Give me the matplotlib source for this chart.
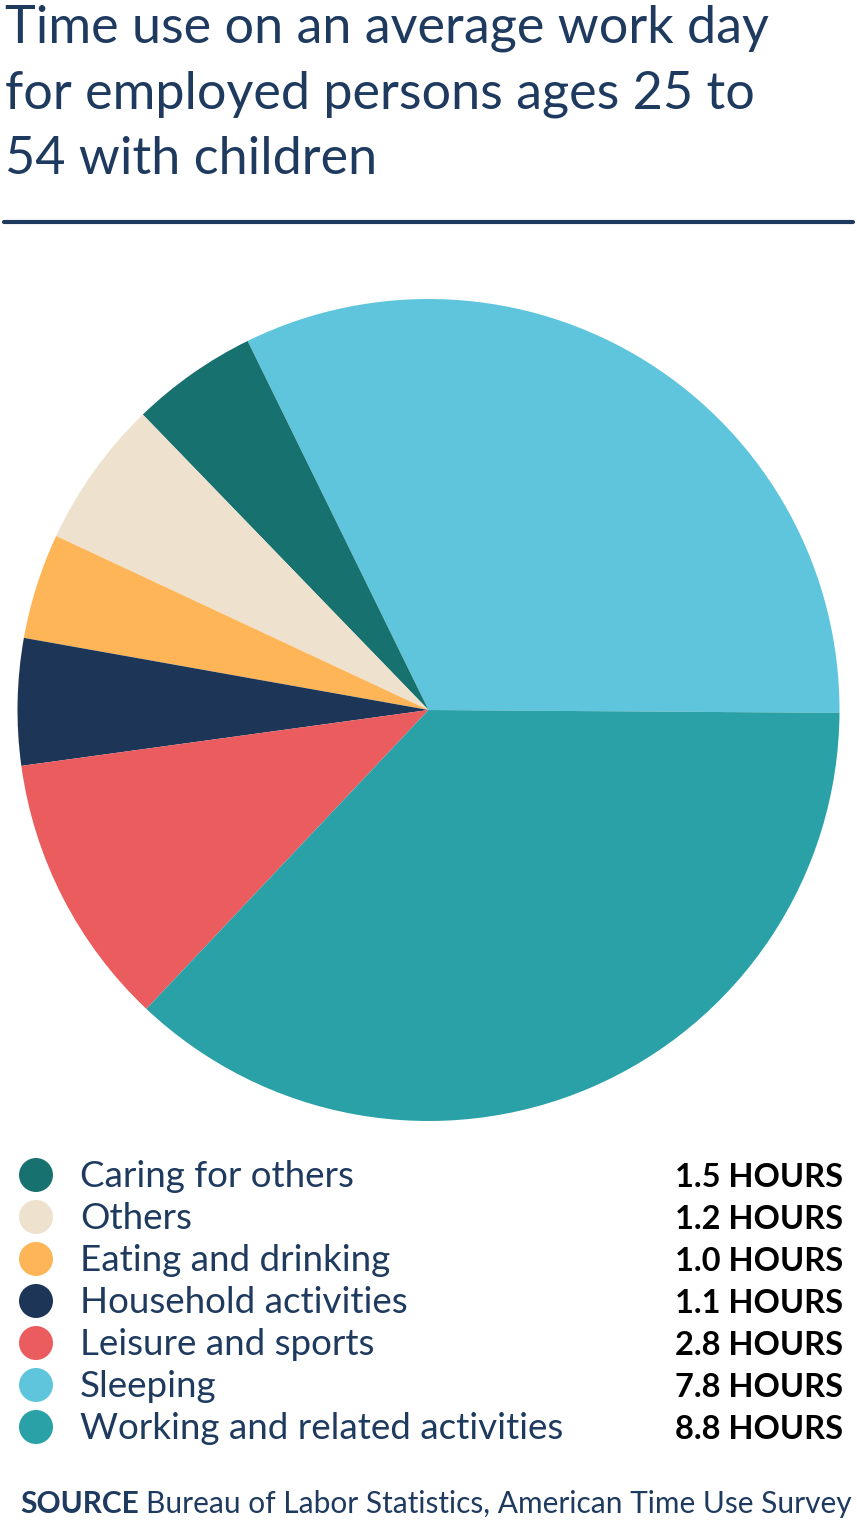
import matplotlib
matplotlib.use("Agg")
import matplotlib.pyplot as plt
from matplotlib.patches import Circle

# ---- data ----
categories = ["Caring for others", "Others", "Eating and drinking",
              "Household activities", "Leisure and sports", "Sleeping",
              "Working and related activities"]
# values printed in the legend
hours = [1.5, 1.2, 1.0, 1.1, 2.8, 7.8, 8.8]
hour_labels = ["1.5 HOURS", "1.2 HOURS", "1.0 HOURS", "1.1 HOURS",
               "2.8 HOURS", "7.8 HOURS", "8.8 HOURS"]
pie_hours = [1.2, 1.4, 1.0, 1.2, 2.6, 7.8, 8.9]
colors = ["#17716F", "#EEE1CD", "#FDB557", "#1D3557", "#EA5C5D",
          "#5EC5DC", "#2AA0A7"]
pie_order = [5, 0, 1, 2, 3, 4, 6]  # drawing order around the pie

title_lines = ["Time use on an average work day",
               "for employed persons ages 25 to",
               "54 with children"]
source_bold = "SOURCE"
source_text = "Bureau of Labor Statistics, American Time Use Survey"

NAVY = "#1F3A5F"
FONT = ["Lato", "DejaVu Sans"]

W, H = 857, 1520
fig = plt.figure(figsize=(W / 100, H / 100), dpi=100)
fig.patch.set_facecolor("white")
ax = fig.add_axes([0, 0, 1, 1])

def Y(py):
    return H - py

ax.pie([pie_hours[i] for i in pie_order], colors=[colors[i] for i in pie_order],
       startangle=-0.4, counterclock=True, center=(428.5, Y(710)), radius=411,
       wedgeprops=dict(linewidth=0))

ax.set_xlim(0, W)
ax.set_ylim(0, H)
ax.set_aspect("auto")
ax.axis("off")

# title
for i, line in enumerate(title_lines):
    ax.text(5, Y(42 + 66 * i), line, fontsize=37.5, color=NAVY, family=FONT,
            ha="left", va="baseline")

# rule
ax.plot([4, 853], [Y(222), Y(222)], color=NAVY, lw=3, solid_capstyle="round")

# legend
for i, (cat, lab, col) in enumerate(zip(categories, hour_labels, colors)):
    yc = 1175 + 42 * i
    ax.add_patch(Circle((36, Y(yc)), 17, color=col, lw=0))
    ax.text(80, Y(yc + 12), cat, fontsize=26.5, color=NAVY, family=FONT,
            ha="left", va="baseline")
    ax.text(843, Y(yc + 12), lab, fontsize=23.5, color="black", family=FONT,
            weight="bold", ha="right", va="baseline")

# source
t = ax.text(20, Y(1513), source_bold, fontsize=21.5, color=NAVY, family=FONT,
            weight="bold", ha="left", va="baseline")
fig.canvas.draw()
bb = t.get_window_extent()
ax.text(bb.x1 + 7, Y(1513), source_text, fontsize=21.5, color=NAVY, family=FONT,
        ha="left", va="baseline")

fig.savefig("out.png", dpi=100, facecolor="white")
